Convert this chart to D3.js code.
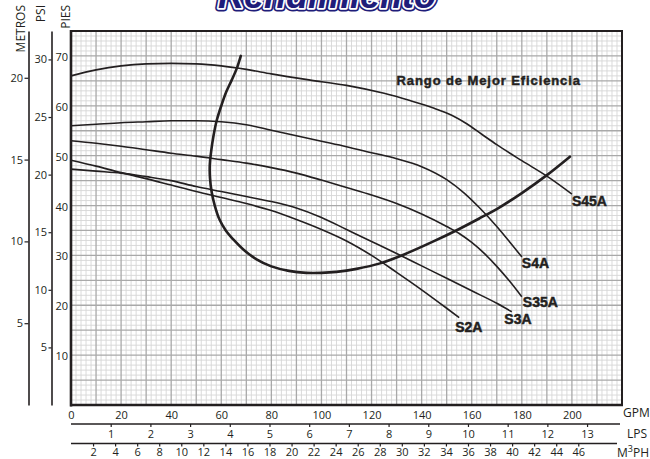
<!DOCTYPE html>
<html><head><meta charset="utf-8">
<script src="https://cdn.jsdelivr.net/npm/d3@7"></script>
<style>body{margin:0;background:#fff} svg{display:block}</style>
</head><body><svg id="c" width="650" height="459"></svg>
<script>
// ---------------- DATA ----------------
const gpmTicks = [0,20,40,60,80,100,120,140,160,180,200];
const lpsTicks = [1,2,3,4,5,6,7,8,9,10,11,12,13];
const m3phTicks = [2,4,6,8,10,12,14,16,18,20,22,24,26,28,30,32,34,36,38,40,42,44,46];
const piesTicks = [10,20,30,40,50,60,70];
const psiTicks = [5,10,15,20,25,30];
const metrosTicks = [5,10,15,20];

const seriesNames = ["S45A","S4A","S35A","S3A","S2A"];

const s45aGpm = [0,10,20,30,40,50,60,70,80,95,110,125,135,145,152,158,164,170,180,190,200];
const s45aFt  = [66.0,67.2,68.0,68.4,68.5,68.4,68.0,67.3,66.4,65.2,64.1,62.5,61.1,59.5,58.1,56.4,54.3,52.2,49.0,45.9,42.3];

const s4aGpm = [0,10,20,30,40,50,60,70,80,90,100,110,120,130,140,150,157,163,170,175,180];
const s4aFt  = [56.0,56.3,56.6,56.8,57.0,57.0,56.8,56.2,55.1,54.0,52.9,51.8,50.6,49.4,47.8,45.2,42.5,39.6,35.8,32.8,29.7];

const s35aGpm = [0,10,20,30,40,50,60,70,80,90,100,110,120,130,140,150,155,160,165,170,175,180];
const s35aFt  = [53.0,52.5,51.9,51.2,50.5,49.9,49.2,48.5,47.6,46.5,45.1,43.6,42.1,40.4,38.3,35.8,34.4,32.6,30.4,27.8,24.9,21.7];

const s3aGpm = [0,10,20,30,40,50,60,70,80,90,100,110,120,130,140,150,160,170,176];
const s3aFt  = [47.3,46.9,46.5,45.8,45.0,43.8,42.8,41.8,40.8,39.5,37.6,35.2,32.8,30.4,27.9,25.4,22.9,20.4,18.7];

const s2aGpm = [0,10,20,30,40,50,60,70,80,90,100,110,120,130,140,150,155];
const s2aFt  = [49.1,47.9,46.6,45.4,44.1,42.8,41.6,40.4,39.0,37.2,35.2,32.9,30.0,26.6,23.1,19.4,17.5];

// best-efficiency range curve (ordered path)
const effGpm = [67.8,66.2,64.2,62.0,60.0,58.2,56.9,56.0,55.4,55.5,56.2,57.4,59.2,61.8,64.8,68.8,74.1,80.0,87.0,94.0,100.0,106.0,114.0,123.4,134.0,144.7,155.0,163.0,171.0,180.0,190.0,199.2];
const effFt  = [70.0,67.5,65.2,62.8,60.0,57.1,54.0,51.0,48.0,45.5,42.6,40.0,37.3,35.0,33.2,31.2,29.2,27.8,26.9,26.5,26.5,26.7,27.3,28.4,30.4,32.8,35.3,37.4,39.6,42.5,46.1,49.8];

const titleText = "Rendimiento";
const bepText = "Rango de Mejor Eficiencia";

// --------------- LAYOUT / STYLE ---------------
const L=71, R=622, T=31, B=405;
const INK = "#231f20";
const FT_PER_PSI = 2.31, FT_PER_M = 3.281, GPM_PER_LPS = 15.85, GPM_PER_M3H = 4.403;
const tickFont = "'Open Sans', sans-serif";

const svg = d3.select("#c");
const x = d3.scaleLinear().domain([0,220]).range([L,R]);
const y = d3.scaleLinear().domain([0,75]).range([B,T]);
const yPsi = d3.scaleLinear().domain([0,75/FT_PER_PSI]).range([B,T]);
const yM = d3.scaleLinear().domain([0,75/FT_PER_M]).range([B,T]);
const xLps = d3.scaleLinear().domain([0,220/GPM_PER_LPS]).range([L,R]);
const xM3 = d3.scaleLinear().domain([0,220/GPM_PER_M3H]).range([L,R]);

// grid
const g = svg.append("g");
const minorX = d3.range(0,221,2).filter(v=>v%10!==0);
const majorX = d3.range(0,221,10);
const minorY = d3.range(0,76,1).filter(v=>v%5!==0);
const majorY = d3.range(0,76,5);
g.selectAll(".mx").data(minorX).join("line").attr("x1",d=>x(d)).attr("x2",d=>x(d)).attr("y1",T).attr("y2",B)
 .attr("stroke","#d6d6d6").attr("stroke-width",0.9);
g.selectAll(".my").data(minorY).join("line").attr("y1",d=>y(d)).attr("y2",d=>y(d)).attr("x1",L).attr("x2",R)
 .attr("stroke","#d6d6d6").attr("stroke-width",0.9);
g.selectAll(".Mx").data(majorX).join("line").attr("x1",d=>x(d)).attr("x2",d=>x(d)).attr("y1",T).attr("y2",B)
 .attr("stroke","#a9a9a9").attr("stroke-width",1.3);
g.selectAll(".My").data(majorY).join("line").attr("y1",d=>y(d)).attr("y2",d=>y(d)).attr("x1",L).attr("x2",R)
 .attr("stroke","#a9a9a9").attr("stroke-width",1.3);

// BEP label
svg.append("text").attr("x",x(130)).attr("y",y(64.1)).text(bepText)
  .attr("font-family","'Liberation Sans', Arial, sans-serif").attr("font-weight","bold").attr("font-size",13)
  .attr("letter-spacing",0.9).attr("fill",INK).attr("stroke",INK).attr("stroke-width",0.45);

// curves
const pumpLine = d3.line().x(d=>x(d[0])).y(d=>y(d[1])).curve(d3.curveMonotoneX);
const series = [
  {name:seriesNames[0], gpm:s45aGpm, ft:s45aFt, dx:0,  dy:12},
  {name:seriesNames[1], gpm:s4aGpm,  ft:s4aFt,  dx:0,  dy:11},
  {name:seriesNames[2], gpm:s35aGpm, ft:s35aFt, dx:1,  dy:10},
  {name:seriesNames[3], gpm:s3aGpm,  ft:s3aFt,  dx:-7.5, dy:12.6},
  {name:seriesNames[4], gpm:s2aGpm,  ft:s2aFt,  dx:-4, dy:14.5}
];
series.forEach(s=>{
  const pts = s.gpm.map((v,i)=>[v,s.ft[i]]);
  svg.append("path").attr("d",pumpLine(pts)).attr("fill","none").attr("stroke",INK).attr("stroke-width",1.6);
  const last = pts[pts.length-1];
  svg.append("text").attr("x",x(last[0])+s.dx).attr("y",y(last[1])+s.dy).text(s.name)
    .attr("font-family","'Liberation Sans', Arial, sans-serif").attr("font-weight","bold").attr("font-size",14)
    .attr("fill",INK).attr("stroke",INK).attr("stroke-width",0.5);
});
const effLine = d3.line().x(d=>x(d[0])).y(d=>y(d[1])).curve(d3.curveCatmullRom.alpha(0.5));
svg.append("path").attr("d",effLine(effGpm.map((v,i)=>[v,effFt[i]])))
  .attr("fill","none").attr("stroke",INK).attr("stroke-width",2.6).attr("stroke-linecap","round");

// frame
svg.append("rect").attr("x",L).attr("y",T).attr("width",R-L).attr("height",B-T)
  .attr("fill","none").attr("stroke",INK).attr("stroke-width",2);
svg.append("line").attr("x1",L).attr("x2",L).attr("y1",T-1).attr("y2",B+1.5).attr("stroke",INK).attr("stroke-width",2.6);
svg.append("line").attr("x1",L-1).attr("x2",R+1).attr("y1",B).attr("y2",B).attr("stroke",INK).attr("stroke-width",2.6);

function styleAxis(sel){
  sel.selectAll("text").attr("font-family",tickFont).attr("font-size",11).attr("fill",INK);
  sel.selectAll("line").attr("stroke",INK).attr("stroke-width",1.2);
  sel.select(".domain").attr("stroke",INK).attr("stroke-width",1.6);
}

// PIES labels (no ticks)
const aPies = svg.append("g").attr("transform",`translate(${L},1)`)
  .call(d3.axisLeft(y).tickValues(piesTicks).tickSize(0).tickPadding(3));
aPies.select(".domain").remove(); styleAxis(aPies);

// PSI axis
const aPsi = svg.append("g").attr("transform","translate(51.5,0)")
  .call(d3.axisLeft(yPsi).tickValues(psiTicks).tickSize(3).tickSizeOuter(0).tickPadding(1.5));
styleAxis(aPsi);
// METROS axis
const aM = svg.append("g").attr("transform","translate(28.5,0)")
  .call(d3.axisLeft(yM).tickValues(metrosTicks).tickSize(4).tickSizeOuter(0).tickPadding(1.5));
styleAxis(aM);

// GPM labels
const aG = svg.append("g").attr("transform",`translate(0,${B})`)
  .call(d3.axisBottom(x).tickValues(gpmTicks).tickSize(0).tickPadding(6));
aG.select(".domain").remove(); styleAxis(aG);
// LPS axis
const aL = svg.append("g").attr("transform","translate(0,424)")
  .call(d3.axisBottom(xLps).tickValues(lpsTicks).tickSize(3).tickSizeOuter(0).tickPadding(3));
styleAxis(aL); aL.select(".domain").attr("d",`M${L},0H620`);
// M3PH axis
const aM3 = svg.append("g").attr("transform","translate(0,443.5)")
  .call(d3.axisBottom(xM3).tickValues(m3phTicks).tickSize(3).tickSizeOuter(0).tickPadding(1.5));
styleAxis(aM3); aM3.select(".domain").attr("d",`M${L},0H617`);

// unit labels
const unitStyle = s=>s.attr("font-family",tickFont).attr("font-size",12).attr("fill",INK);
svg.append("text").attr("x",623).attr("y",417).text("GPM").call(unitStyle);
svg.append("text").attr("x",627).attr("y",438).text("LPS").call(unitStyle);
const m3 = svg.append("text").attr("x",617).attr("y",456.5).call(unitStyle);
m3.append("tspan").text("M");
m3.append("tspan").text("3").attr("font-size",9).attr("dy",-4.5);
m3.append("tspan").text("PH").attr("dy",4.5);

const vt = (xx,txt)=>svg.append("text").attr("transform",`translate(${xx},5) rotate(-90)`)
  .attr("text-anchor","end").text(txt).call(unitStyle);
vt(24.5,"METROS"); vt(45,"PSI"); vt(69.5,"PIES");

// title (cut off at top, as in the reference)
const title = (sw, stroke)=>svg.append("text").attr("x",327).attr("y",8).attr("text-anchor","middle")
  .text(titleText).attr("font-family","'Liberation Sans', Arial, sans-serif").attr("font-weight","bold")
  .attr("font-style","italic").attr("font-size",36).attr("fill","#1f1d7a")
  .attr("stroke",stroke).attr("stroke-width",sw).attr("stroke-linejoin","round");
title(7,"#1f1d7a"); title(3.6,"#ffffff"); title(0,"none");
</script></body></html>
